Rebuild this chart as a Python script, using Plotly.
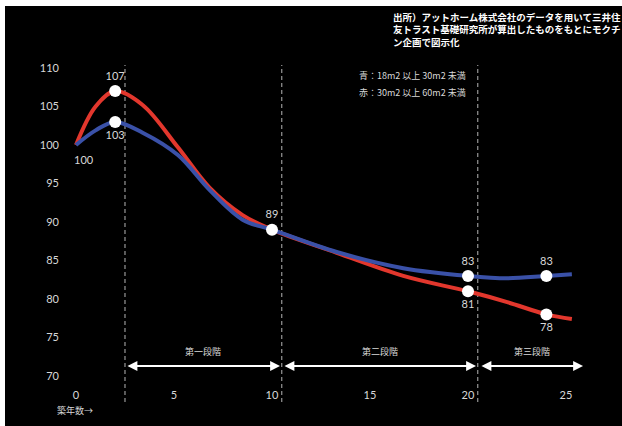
import plotly.graph_objects as go

# 築年数ごとの家賃指数（新築=100）
years = [0, 1, 2, 3.4, 5.2, 6.8, 8.5, 10, 13.3, 16.7, 20, 22, 24, 25.3]
red_index = [100, 105.0, 107, 105.2, 99.7, 94.5, 90.9, 89, 86.0, 83.0, 81, 79.6, 78, 77.4]   # 30m2以上60m2未満
blue_index = [100, 101.9, 103, 101.6, 98.7, 94.2, 90.3, 89, 86.1, 84.0, 83, 82.7, 83, 83.2]   # 18m2以上30m2未満

# 値ラベルを付ける点
mark_years = [2, 2, 10, 20, 20, 24, 24]
mark_values = [107, 103, 89, 83, 81, 83, 78]
mark_pos = ["top center", "bottom center", "top center", "top center",
            "bottom center", "top center", "bottom center"]

x_ticks = [0, 5, 10, 15, 20, 25]
y_ticks = [70, 75, 80, 85, 90, 95, 100, 105, 110]

# 段階の区切りと範囲
stage_bounds = [2.5, 10.5, 20.5]
stage_names = ["第一段階", "第二段階", "第三段階"]
stage_spans = [(2.55, 10.41), (10.56, 20.41), (20.61, 25.87)]

RED = "#e2372d"
BLUE = "#3a51a8"
TXT = "#d8d8d8"
NUM_FONT = "Lato"
JP_FONT = "Noto Sans CJK JP"

# plot area geometry (pixels)
W, H = 622, 426
L, R, T, B = 60, 7, 20, 39
pw, ph = W - L - R, H - T - B

fig = go.Figure()
fig.add_trace(go.Scatter(x=years, y=red_index, mode="lines",
                         line=dict(color=RED, width=4, shape="spline", smoothing=1.0),
                         hoverinfo="skip", showlegend=False))
fig.add_trace(go.Scatter(x=years, y=blue_index, mode="lines",
                         line=dict(color=BLUE, width=4, shape="spline", smoothing=1.0),
                         hoverinfo="skip", showlegend=False))
fig.add_trace(go.Scatter(x=mark_years, y=mark_values, mode="markers+text",
                         marker=dict(color="white", size=12),
                         text=[f"{v:g}" for v in mark_values], textposition=mark_pos,
                         textfont=dict(color=TXT, size=11, family=NUM_FONT),
                         hoverinfo="skip", showlegend=False, cliponaxis=False))

shapes = []


def px_x(p):
    return (p - L) / pw


def px_y(p):
    return (H - B - p) / ph


# white frame at top and left
shapes.append(dict(type="rect", xref="paper", yref="paper", x0=px_x(-2), x1=px_x(5),
                   y0=px_y(H + 2), y1=px_y(-2), fillcolor="white", line=dict(width=0), layer="above"))
shapes.append(dict(type="rect", xref="paper", yref="paper", x0=px_x(-2), x1=px_x(W + 2),
                   y0=px_y(6), y1=px_y(-2), fillcolor="white", line=dict(width=0), layer="above"))
for xb in stage_bounds:
    shapes.append(dict(type="line", xref="x", yref="paper", x0=xb, x1=xb,
                       y0=px_y(402), y1=px_y(65),
                       line=dict(color="#b5b5b5", width=1, dash="4px,3px"), layer="below"))

annotations = []
arrow_y = 71.3
for (a, b), name in zip(stage_spans, stage_names):
    annotations.append(dict(x=b, y=arrow_y, ax=a, ay=arrow_y, xref="x", yref="y",
                            axref="x", ayref="y", text="", showarrow=True,
                            arrowhead=2, arrowside="end+start", arrowsize=1.1,
                            arrowwidth=1.8, arrowcolor="white", standoff=0, startstandoff=0))
    annotations.append(dict(x=(a + b) / 2, y=arrow_y, xref="x", yref="y", yshift=14,
                            text=name, showarrow=False,
                            font=dict(color=TXT, size=9, family=JP_FONT)))

annotations.append(dict(x=years[0], y=red_index[0], xref="x", yref="y", xshift=8, yshift=-14,
                        text=f"{red_index[0]:g}", showarrow=False,
                        font=dict(color=TXT, size=11, family=NUM_FONT)))
annotations.append(dict(x=px_x(75), y=px_y(410), xref="paper", yref="paper",
                        xanchor="center", yanchor="middle",
                        text="築年数→", showarrow=False,
                        font=dict(color=TXT, size=9, family=JP_FONT)))
annotations.append(dict(x=px_x(468), y=px_y(75), xref="paper", yref="paper",
                        xanchor="right", yanchor="middle",
                        text="青：18m2 以上 30m2 未満", showarrow=False,
                        font=dict(color=TXT, size=9, family=JP_FONT)))
annotations.append(dict(x=px_x(468), y=px_y(92), xref="paper", yref="paper",
                        xanchor="right", yanchor="middle",
                        text="赤：30m2 以上 60m2 未満", showarrow=False,
                        font=dict(color=TXT, size=9, family=JP_FONT)))
annotations.append(dict(x=px_x(391), y=px_y(8), xref="paper", yref="paper",
                        xanchor="left", yanchor="top", align="left",
                        text="<b>出所）アットホーム株式会社のデータを用いて三井住<br>"
                             "友トラスト基礎研究所が算出したものをもとにモクチ<br>"
                             "ン企画で図示化</b>",
                        showarrow=False,
                        font=dict(color="white", size=9.5, family=JP_FONT)))

x0 = -0.816
y_lo = 70 - (H - B - 376) / 7.7
fig.update_layout(
    width=W, height=H,
    margin=dict(l=L, r=R, t=T, b=B, pad=0),
    paper_bgcolor="#000000", plot_bgcolor="#000000",
    xaxis=dict(range=[x0, x0 + pw / 19.6], tickvals=x_ticks, showgrid=False,
               zeroline=False, showline=False, ticks="",
               tickfont=dict(color=TXT, size=11, family=NUM_FONT)),
    yaxis=dict(range=[y_lo, y_lo + ph / 7.7],
               tickvals=y_ticks, showgrid=False, zeroline=False, showline=False,
               ticks="", tickfont=dict(color=TXT, size=11, family=NUM_FONT)),
    shapes=shapes, annotations=annotations,
)

fig.write_html("out.html")
